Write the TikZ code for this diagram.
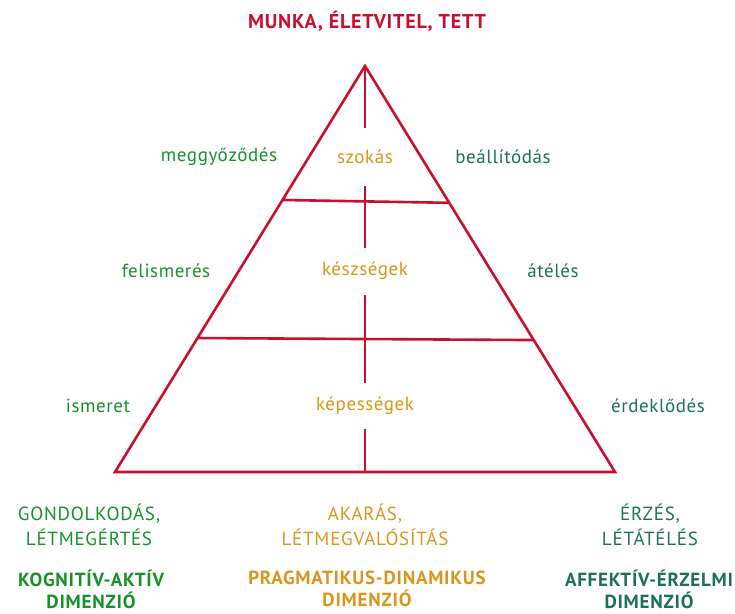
\documentclass[tikz,border=0pt]{standalone}
\usepackage{fontspec}
\setmainfont{PT Sans}
\newfontfamily\spacedfont[LetterSpace=3]{PT Sans}
\newfontfamily\widefont[LetterSpace=4]{PT Sans}
\usetikzlibrary{calc}
\definecolor{pyrred}{HTML}{C8102E}
\definecolor{pyrgreen}{HTML}{17902A}
\definecolor{pyrorange}{HTML}{D8961C}
\definecolor{pyrteal}{HTML}{1D6F5C}
\tikzset{
    edge/.style={
        pyrred,
        line width=2.6pt,
        line join=miter
    },
    word/.style={
        font=\spacedfont\fontsize{19}{22}\selectfont,
        inner sep=0pt
    },
    gap/.style={
        word,
        fill=white,
        text=pyrorange
    },
    caption/.style={
        word,
        align=center,
        font=\widefont\fontsize{19}{25}\selectfont
    },
    dimension/.style={
        caption,
        font=\widefont\fontsize{19}{22}\selectfont\bfseries
    }
}

\begin{document}
\begin{tikzpicture}[x=1pt, y=-1pt]
    \useasboundingbox (0, 0) rectangle (735, 613);

    % corners of the pyramid
    \coordinate (apex) at (365, 66);
    \coordinate (left) at (115, 472);
    \coordinate (right) at (615, 472);
    \coordinate (base) at (365, 472);

    % levels
    \coordinate (l1) at ($(apex)!0.330!(left)$);
    \coordinate (r1) at ($(apex)!0.337!(right)$);
    \coordinate (l2) at ($(apex)!0.670!(left)$);
    \coordinate (r2) at ($(apex)!0.675!(right)$);

    \draw [edge] (apex) -- (base);
    \draw [edge] (l1) -- (r1);
    \draw [edge] (l2) -- (r2);
    \draw [edge] (apex) -- (left) -- (right) -- cycle;

    % middle column
    \node [gap, minimum height=58pt] (habit) at (365, 157) {szokás};
    \node [gap, minimum height=47pt] (skills) at (365, 271) {készségek};
    \node [gap, minimum height=46pt] (abilities) at (365, 406) {képességek};

    % left column
    \node [word, text=pyrgreen] (belief) at (219, 157) {meggyőződés};
    \node [word, text=pyrgreen] (recognition) at (166, 271) {felismerés};
    \node [word, text=pyrgreen] (knowledge) at (98, 406) {ismeret};

    % right column
    \node [word, text=pyrteal] (attitude) at (503, 157) {beállítódás};
    \node [word, text=pyrteal] (experience) at (553, 271) {átélés};
    \node [word, text=pyrteal] (interest) at (658, 406) {érdeklődés};

    \node [word, text=pyrred, font=\widefont\fontsize{20}{22}\selectfont\bfseries] (title)
        at (367, 21) {MUNKA, ÉLETVITEL, TETT};

    % bottom captions
    \node [caption, text=pyrgreen] (thinking) at (89, 525) {GONDOLKODÁS,\\LÉTMEGÉRTÉS};
    \node [caption, text=pyrorange] (will) at (365, 525) {AKARÁS,\\LÉTMEGVALÓSÍTÁS};
    \node [caption, text=pyrteal] (feeling) at (650, 525) {ÉRZÉS,\\LÉTÁTÉLÉS};

    \node [dimension, text=pyrgreen] (cognitive) at (91, 589) {KOGNITÍV-AKTÍV\\DIMENZIÓ};
    \node [dimension, text=pyrorange] (pragmatic) at (367, 589) {PRAGMATIKUS-DINAMIKUS\\DIMENZIÓ};
    \node [dimension, text=pyrteal] (affective) at (649, 589) {AFFEKTÍV-ÉRZELMI\\DIMENZIÓ};
\end{tikzpicture}
\end{document}
